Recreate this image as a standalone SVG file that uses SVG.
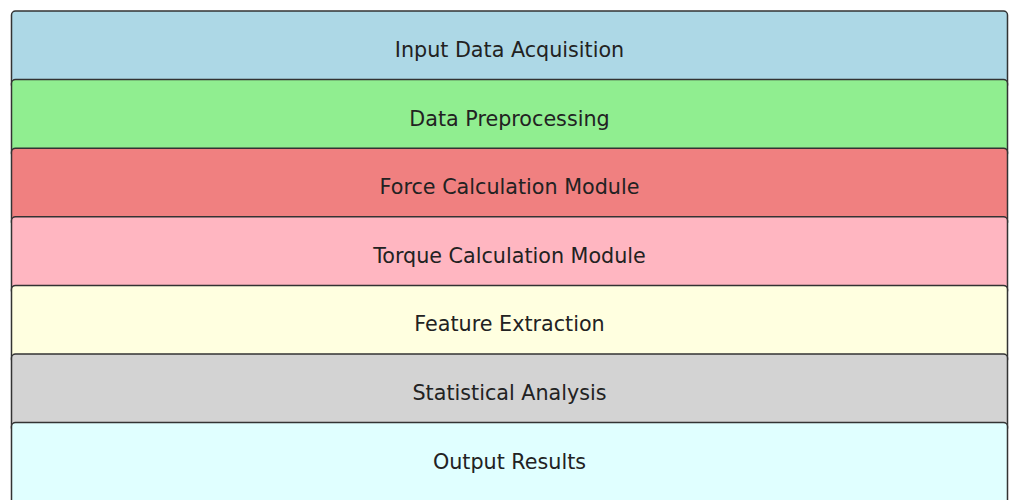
<svg xmlns="http://www.w3.org/2000/svg" width="1013" height="500" viewBox="0 0 1013 500">
<style>
.box{stroke:#333;stroke-width:1.5}
.lbl{font-family:"DejaVu Sans",sans-serif;font-size:20.7px;fill:#222;text-anchor:middle;dominant-baseline:central}
</style>
<rect width="1013" height="500" fill="#fff"/>
<g id="n1"><rect class="box" x="11.5" y="11" width="996" height="78" rx="4" fill="#ADD8E6"/><text class="lbl" x="509.5" y="50">Input Data Acquisition</text></g>
<g id="n2"><rect class="box" x="11.5" y="79.6" width="996" height="78" rx="4" fill="#90EE90"/><text class="lbl" x="509.5" y="118.6">Data Preprocessing</text></g>
<g id="n3"><rect class="box" x="11.5" y="148.2" width="996" height="78" rx="4" fill="#F08080"/><text class="lbl" x="509.5" y="187.2">Force Calculation Module</text></g>
<g id="n4"><rect class="box" x="11.5" y="216.8" width="996" height="78" rx="4" fill="#FFB6C1"/><text class="lbl" x="509.5" y="255.8">Torque Calculation Module</text></g>
<g id="n5"><rect class="box" x="11.5" y="285.4" width="996" height="78" rx="4" fill="#FFFFE0"/><text class="lbl" x="509.5" y="324.4">Feature Extraction</text></g>
<g id="n6"><rect class="box" x="11.5" y="354" width="996" height="78" rx="4" fill="#D3D3D3"/><text class="lbl" x="509.5" y="393">Statistical Analysis</text></g>
<g id="n7"><rect class="box" x="11.5" y="422.6" width="996" height="90" rx="4" fill="#E0FFFF"/><text class="lbl" x="509.5" y="461.6">Output Results</text></g>
<g id="connectors"></g>
</svg>
